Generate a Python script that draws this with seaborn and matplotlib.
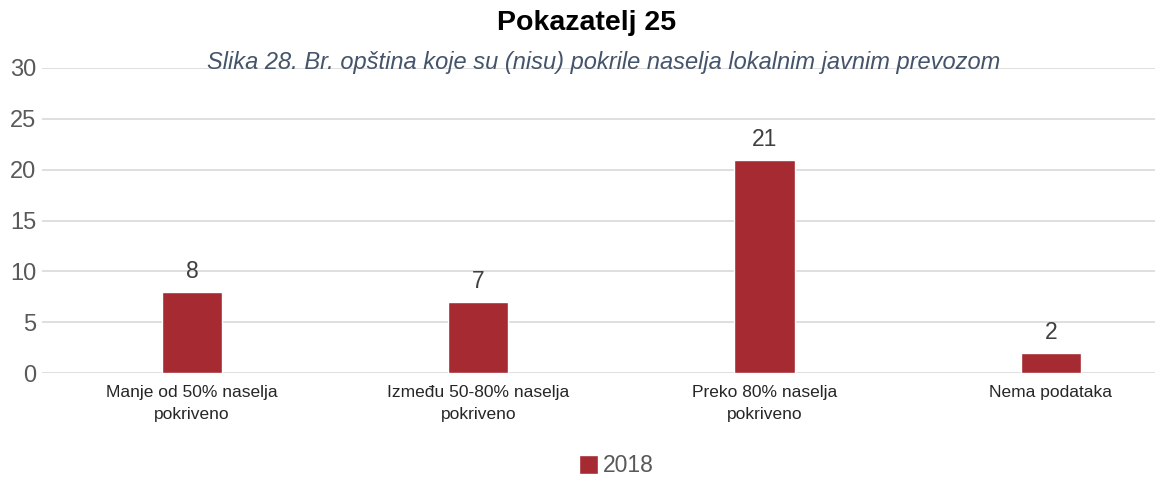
import matplotlib
matplotlib.use("Agg")
import matplotlib.pyplot as plt
import seaborn as sns
import pandas as pd
from matplotlib import font_manager

categories = ["Manje od 50% naselja\npokriveno", "Između 50-80% naselja\npokriveno",
              "Preko 80% naselja\npokriveno", "Nema podataka"]
values = [8, 7, 21, 2]
series_name = "2018"
yticks = [0, 5, 10, 15, 20, 25, 30]
title = "Pokazatelj 25"
subtitle = "Slika 28. Br. opština koje su (nisu) pokrile naselja lokalnim javnim prevozom"

df = pd.DataFrame({"cat": categories, "val": values, "year": [series_name] * len(values)})

sns.set_theme(style="white")
names = {f.name for f in font_manager.fontManager.ttflist}
narrow = "Liberation Sans Narrow" if "Liberation Sans Narrow" in names else "Liberation Sans"
plt.rcParams["font.family"] = ["Liberation Sans", "DejaVu Sans"]

bar_color = "#a52a31"
fig = plt.figure(figsize=(11.55, 4.79), dpi=100)
ax = fig.add_axes([42 / 1155, 106 / 479, 1113 / 1155, 305 / 479])

sns.barplot(data=df, x="cat", y="val", hue="year", palette=[bar_color], width=0.21,
            ax=ax, saturation=1, legend=True)

ax.set_ylim(0, 30)
ax.set_xlim(-0.524, 3.364)
ax.set_yticks(yticks)
ax.yaxis.grid(True, color="#d9d9d9", linewidth=1.2)
ax.set_axisbelow(True)
for s in ax.spines.values():
    s.set_visible(False)
ax.tick_params(axis="y", length=0, pad=4, labelsize=17, labelcolor="#595959")
ax.tick_params(axis="x", length=0, pad=9, labelcolor="#262626")
for lbl in ax.get_xticklabels():
    lbl.set_family([narrow, "DejaVu Sans"])
    lbl.set_fontsize(12.5)
    lbl.set_linespacing(1.55)
ax.set_xlabel("")
ax.set_ylabel("")

for c in ax.containers:
    ax.bar_label(c, labels=[str(v) for v in values], padding=6, fontsize=16.5, color="#404040")

fig.text(587 / 1155, 1 - 23 / 479, title, ha="center", va="center", fontsize=20.5,
         fontweight="bold", color="#000000")
fig.text(604 / 1155, 1 - 62 / 479, subtitle, ha="center", va="center", fontsize=17,
         style="italic", color="#44546a")

leg = ax.legend(loc="center", bbox_to_anchor=(616 / 1155, 1 - 466 / 479),
                bbox_transform=fig.transFigure, frameon=False, fontsize=16.5,
                handlelength=0.85, handleheight=0.85, handletextpad=0.2,
                borderpad=0.1)
for t in leg.get_texts():
    t.set_color("#595959")

fig.savefig("out.png", dpi=100)
